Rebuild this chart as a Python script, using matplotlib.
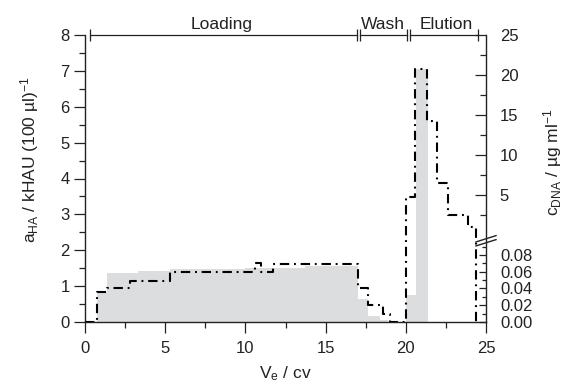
import numpy as np
import matplotlib
matplotlib.use('Agg')
import matplotlib.pyplot as plt
from matplotlib.ticker import FixedLocator, FixedFormatter, MultipleLocator

plt.rcParams['font.family'] = ['Liberation Sans', 'DejaVu Sans']
plt.rcParams['mathtext.fontset'] = 'custom'
plt.rcParams['mathtext.rm'] = 'Liberation Sans'
plt.rcParams['mathtext.it'] = 'Liberation Sans'
plt.rcParams['mathtext.default'] = 'regular'

# ---- data ----
# a_HA (grey step bars): bin edges and heights
a_edges = [0.75, 1.35, 3.3, 5.3, 10.0, 13.7, 17.0, 17.65, 18.4, 18.9, 20.0, 20.65, 21.4]
a_values = [0.83, 1.36, 1.42, 1.47, 1.50, 1.55, 0.64, 0.17, 0.05, 0.0, 0.75, 7.05]

# c_DNA (dash-dot step line, steps-post)
c_x = [0, 0.75, 1.35, 2.8, 5.3, 10.6, 11.0, 11.7, 17.0, 17.65, 18.6, 19.0,
       20.0, 20.6, 21.3, 21.95, 22.6, 23.9, 24.4]
c_values = [0, 0.036, 0.040, 0.049, 0.060, 0.070, 0.060, 0.069, 0.040, 0.020, 0.010, 0.0,
            4.8, 20.75, 14.25, 6.5, 2.5, 1.0, 0.0]

# process phases
phases = ['Loading', 'Wash', 'Elution']
phase_start = [0.3, 17.15, 20.25]
phase_end = [16.95, 20.05, 24.5]
phase_label_x = [8.5, 18.6, 22.5]

# right-axis ticks
c_major = [0.00, 0.02, 0.04, 0.06, 0.08, 5, 10, 15, 20, 25]
c_major_labels = ['0.00', '0.02', '0.04', '0.06', '0.08', '5', '10', '15', '20', '25']
c_minor = [0.01, 0.03, 0.05, 0.07, 0.09, 2.5, 7.5, 12.5, 17.5, 22.5]

# ---- broken right-axis scale ----
LOW_TOP = 0.09
K_LOW = 23.35
UP0 = 2.425
K_UP = 0.223


def fwd(c):
    c = np.asarray(c, dtype=float)
    return np.where(c <= LOW_TOP, c * K_LOW, UP0 + K_UP * c)


def inv(v):
    v = np.asarray(v, dtype=float)
    return np.where(v <= LOW_TOP * K_LOW, v / K_LOW,
                    np.where(v < UP0 + K_UP * LOW_TOP, LOW_TOP, (v - UP0) / K_UP))


TXT = '#222222'
fig = plt.figure(figsize=(5.7, 3.86), dpi=100)
ax = fig.add_axes([85 / 570, 1 - 322 / 386, (486 - 85) / 570, (322 - 35) / 386])

widths = np.diff(a_edges)
ax.bar(a_edges[:-1], a_values, width=widths, align='edge', color='#dcdddf',
       edgecolor='none', linewidth=0, zorder=1)

ax.set_xlim(0, 25)
ax.set_ylim(0, 8)
ax.xaxis.set_major_locator(MultipleLocator(5))
ax.xaxis.set_minor_locator(MultipleLocator(2.5))
ax.yaxis.set_major_locator(MultipleLocator(1))
ax.yaxis.set_minor_locator(MultipleLocator(0.5))
ax.tick_params(which='major', direction='out', length=8, width=0.9, labelsize=12,
               colors=TXT, pad=3)
ax.tick_params(axis='x', which='major', pad=6)
ax.tick_params(which='minor', direction='out', length=4, width=0.9, colors=TXT)
for s in ['top', 'right']:
    ax.spines[s].set_visible(False)
for s in ['left', 'bottom']:
    ax.spines[s].set_linewidth(1.0)
    ax.spines[s].set_color(TXT)

ax2 = ax.twinx()
ax2.set_yscale('function', functions=(fwd, inv))
ax2.set_ylim(0, 25)
ax2.plot(c_x, c_values, drawstyle='steps-post', color='black', linewidth=1.5,
         dashes=[4.5, 2.3, 0.9, 2.3], zorder=3)
ax2.yaxis.set_major_locator(FixedLocator(c_major))
ax2.yaxis.set_major_formatter(FixedFormatter(c_major_labels))
ax2.yaxis.set_minor_locator(FixedLocator(c_minor))
ax2.tick_params(which='major', direction='in', length=8, width=0.9, labelsize=12,
                colors=TXT, pad=10)
ax2.tick_params(which='minor', direction='in', length=4, width=0.9, colors=TXT)
for s in ['top', 'left', 'bottom']:
    ax2.spines[s].set_visible(False)
ax2.spines['right'].set_linewidth(1.0)
ax2.spines['right'].set_color(TXT)
for t in ax2.yaxis.get_major_ticks()[:5]:
    t.tick2line.set_markersize(5)
for t in ax2.yaxis.get_minor_ticks()[:5]:
    t.tick2line.set_markersize(3)

# axis break marks
for dy in (-0.007, 0.007):
    ax2.plot([0.975, 1.025], [0.272 + dy, 0.294 + dy], transform=ax2.transAxes,
             color=TXT, linewidth=1.0, clip_on=False, zorder=5)

# phase annotations
for name, x0, x1, xl in zip(phases, phase_start, phase_end, phase_label_x):
    ax.plot([x0, x1], [8, 8], color=TXT, linewidth=0.9, marker='|', markersize=8,
            markeredgewidth=0.9, clip_on=False, zorder=5)
    ax.text(xl, 8.17, name, ha='center', va='baseline', fontsize=12.5, color=TXT)

ax.set_xlabel('V$_{e}$ / cv', fontsize=12.5, color=TXT, labelpad=6)
fig.text(30 / 570, 1 - 160 / 386, 'a$_{HA}$ / kHAU (100 µl)$^{-1}$', rotation=90,
         ha='center', va='center', fontsize=12.5, color=TXT)
fig.text(553 / 570, 1 - 162 / 386, 'c$_{DNA}$ / µg ml$^{-1}$', rotation=90,
         ha='center', va='center', fontsize=12.5, color=TXT)

fig.savefig('out.png', dpi=100)
